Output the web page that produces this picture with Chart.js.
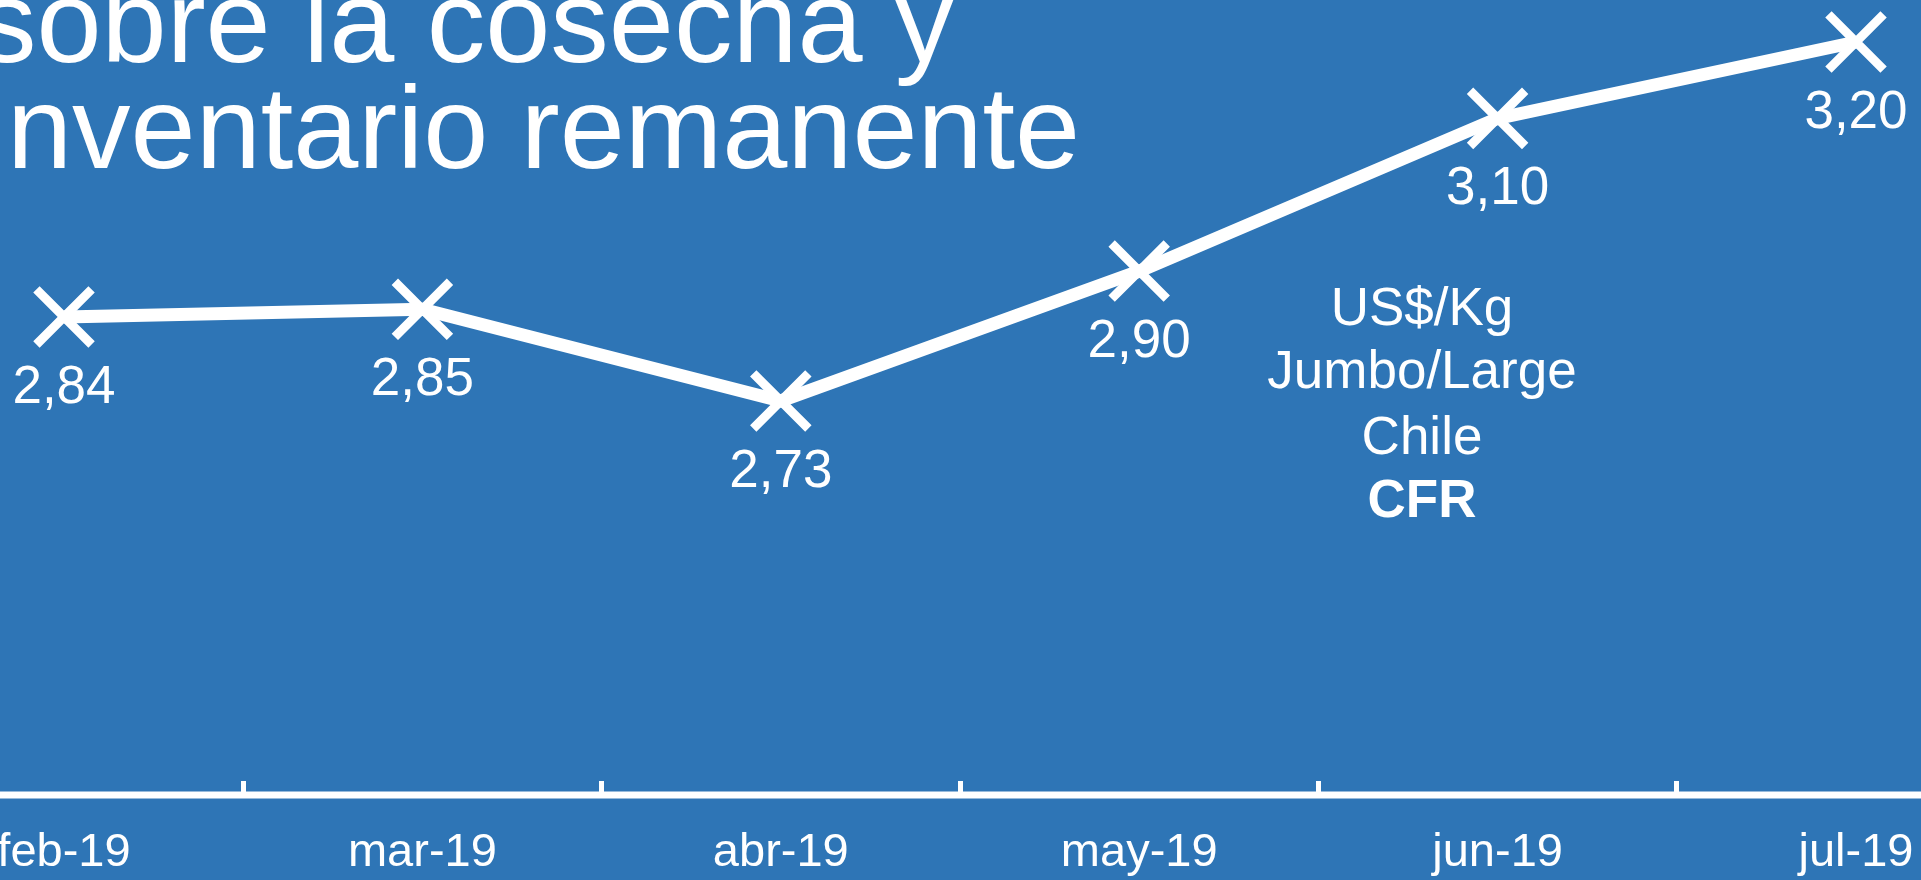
<!DOCTYPE html>
<html>
<head>
<meta charset="utf-8">
<title>Precio Jumbo/Large Chile CFR</title>
<script src="https://cdn.jsdelivr.net/npm/chart.js@4.4.1/dist/chart.umd.min.js"></script>
<style>
    html, body { margin: 0; padding: 0; background: #2E75B6; overflow: hidden; }
    #chart { display: block; }
</style>
</head>
<body>
<canvas id="chart" width="1921" height="880"></canvas>
<script>
// data
const months = ['feb-19', 'mar-19', 'abr-19', 'may-19', 'jun-19', 'jul-19'];
const prices = [2.84, 2.85, 2.73, 2.90, 3.10, 3.20];

const titleLines = ['sobre la cosecha y', 'inventario remanente'];
const noteLines = ['US$/Kg', 'Jumbo/Large', 'Chile', 'CFR'];

const WHITE = '#FFFFFF';
const FONT = "'Liberation Sans', Arial, Helvetica, sans-serif";

// values under each cross, "2,84" style
const valueLabels = {
    id: 'valueLabels',
    afterDatasetsDraw(chart) {
        let ctx = chart.ctx;
        let meta = chart.getDatasetMeta(0);
        ctx.save();
        ctx.fillStyle = WHITE;
        ctx.font = '53px ' + FONT;
        ctx.textAlign = 'center';
        ctx.textBaseline = 'middle';
        meta.data.forEach((pt, i) => {
            let txt = prices[i].toFixed(2).replace('.', ',');
            ctx.fillText(txt, pt.x, pt.y + 71);
        });
        ctx.restore();
    }
};

// slide title (cut by the crop) and the unit note
const slideText = {
    id: 'slideText',
    beforeDraw(chart) {
        let ctx = chart.ctx;
        ctx.save();
        ctx.fillStyle = WHITE;
        ctx.textBaseline = 'alphabetic';
        ctx.textAlign = 'left';
        ctx.font = '117px ' + FONT;
        ctx.fillText(titleLines[0], -22, 62);
        ctx.fillText(titleLines[1], -19, 168);

        ctx.textAlign = 'center';
        let base = [325, 388, 454, 517];
        noteLines.forEach((line, i) => {
            ctx.font = (i === 3 ? 'bold ' : '') + '53px ' + FONT;
            ctx.fillText(line, 1422, base[i]);
        });
        ctx.restore();
    }
};

// the category axis runs across the whole (cropped) picture
const fullAxisLine = {
    id: 'fullAxisLine',
    afterDraw(chart) {
        let ctx = chart.ctx;
        let y = chart.scales.x.top;
        ctx.save();
        ctx.strokeStyle = WHITE;
        ctx.lineWidth = 7;
        ctx.beginPath();
        ctx.moveTo(0, y);
        ctx.lineTo(chart.width, y);
        ctx.stroke();
        ctx.restore();
    }
};

let ctx = document.getElementById('chart').getContext('2d');
let chart = new Chart(ctx, {
    type: 'line',
    data: {
        labels: months,
        datasets: [{
            data: prices,
            borderColor: WHITE,
            borderWidth: 13,
            tension: 0,
            fill: false,
            clip: false,
            pointStyle: 'crossRot',
            pointRadius: 39,
            pointBorderWidth: 9,
            pointBorderColor: WHITE,
            pointBackgroundColor: WHITE
        }]
    },
    options: {
        responsive: false,
        animation: false,
        events: [],
        devicePixelRatio: 1,
        layout: {
            autoPadding: false,
            padding: { left: 64, right: 65, top: 0, bottom: 0 }
        },
        plugins: {
            legend: { display: false },
            tooltip: { enabled: false },
            title: { display: false }
        },
        scales: {
            x: {
                offset: false,
                grid: {
                    offset: true,
                    drawOnChartArea: false,
                    drawTicks: true,
                    tickLength: -14,
                    color: WHITE,
                    lineWidth: 5
                },
                border: { display: false },
                ticks: {
                    color: WHITE,
                    font: { family: FONT, size: 47 },
                    padding: 44,
                    autoSkip: false,
                    maxRotation: 0
                },
                afterFit(scale) {
                    // labels may hang past the plot edges, like the original
                    scale.paddingLeft = 0;
                    scale.paddingRight = 0;
                    scale.height = 85;
                }
            },
            y: {
                display: false,
                min: 2.214,
                max: 3.255
            }
        }
    },
    plugins: [slideText, valueLabels, fullAxisLine]
});
</script>
</body>
</html>
